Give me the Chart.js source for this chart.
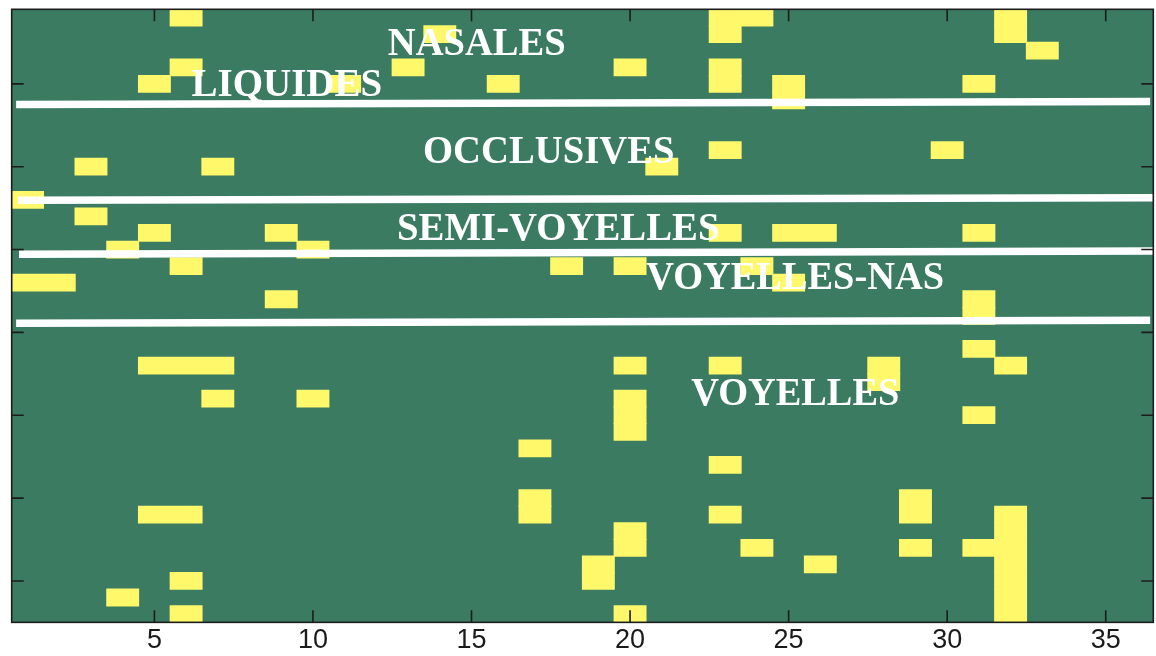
<!DOCTYPE html>
<html>
<head>
<meta charset="utf-8">
<script src="https://cdn.jsdelivr.net/npm/chart.js@4.4.0/dist/chart.umd.min.js"></script>
<style>
  html, body { margin: 0; padding: 0; background: #fff; }
  #wrap { width: 1156px; height: 656px; }
</style>
</head>
<body>
<div id="wrap"><canvas id="matrixChart"></canvas></div>
<script>
// rows of the matrix, top row first
const rowLabels = [1, 2, 3, 4, 5, 6, 7, 8, 9, 10, 11, 12, 13, 14, 15, 16, 17, 18, 19,
                   20, 21, 22, 23, 24, 25, 26, 27, 28, 29, 30, 31, 32, 33, 34, 35, 36, 37];
const xTicks = [5, 10, 15, 20, 25, 30, 35];
const yTicks = [5, 10, 15, 20, 25, 30, 35];

// marked columns in each row
const marked = [
    [6, 23, 24, 32],
    [14, 23, 32],
    [33],
    [6, 13, 20, 23],
    [5, 11, 16, 23, 25, 31],
    [25],
    [],
    [],
    [23, 30],
    [3, 7, 21],
    [],
    [1],
    [3],
    [5, 9, 23, 25, 26, 31],
    [4, 10],
    [6, 18, 20, 24],
    [1, 2, 25],
    [9, 31],
    [31],
    [],
    [31],
    [5, 6, 7, 20, 23, 28, 32],
    [28],
    [7, 10, 20],
    [20, 31],
    [20],
    [17],
    [23],
    [],
    [17, 29],
    [5, 6, 17, 23, 29, 32],
    [20, 32],
    [20, 24, 29, 31, 32],
    [19, 26, 32],
    [6, 19, 32],
    [4, 32],
    [6, 20, 32]
];

// group names and the dividers between groups (column / row units)
const groupNames = ['NASALES', 'LIQUIDES', 'OCCLUSIVES', 'SEMI-VOYELLES', 'VOYELLES-NAS', 'VOYELLES'];
const dividerX = [[0.64, 36.40], [0.70, 36.50], [0.73, 36.50], [0.64, 36.40]];
const dividerY = [[6.25, 6.06], [12.02, 11.88], [15.29, 15.09], [19.45, 19.27]];

const GREEN = '#3a7b61';
const YELLOW = '#fff86b';

// where each group name sits: left x, baseline row, width in columns
const groupLayout = [
    { x: 12.36, y: 3.26, w: 5.61 },
    { x: 6.17, y: 5.74, w: 6.20 },
    { x: 13.47, y: 9.77, w: 7.93 },
    { x: 12.65, y: 14.40, w: 10.17 },
    { x: 20.51, y: 17.36, w: 9.39 },
    { x: 21.93, y: 24.41, w: 6.56 }
];

// join neighbouring columns into one floating bar
function runsOf(cols) {
    const runs = [];
    cols.forEach(c => {
        const last = runs[runs.length - 1];
        if (last && last[1] === c - 0.5) last[1] = c + 0.5;
        else runs.push([c - 0.5, c + 0.5]);
    });
    return runs;
}

const rowRuns = marked.map(runsOf);
const maxRuns = Math.max(...rowRuns.map(r => r.length));

const datasets = [];
for (let k = 0; k < maxRuns; k++) {
    datasets.push({
        type: 'bar',
        data: rowRuns.map(r => r[k] || null),
        backgroundColor: YELLOW,
        borderWidth: 0,
        barPercentage: 1,
        categoryPercentage: 1,
        inflateAmount: 0.6,
        grouped: false,
        order: 1
    });
}
dividerX.forEach((xs, i) => {
    datasets.push({
        type: 'line',
        indexAxis: 'x',
        xAxisID: 'x',
        yAxisID: 'rowAxis',
        data: [{ x: xs[0], y: dividerY[i][0] }, { x: xs[1], y: dividerY[i][1] }],
        borderColor: '#ffffff',
        borderWidth: 7.5,
        borderCapStyle: 'butt',
        pointRadius: 0,
        tension: 0,
        order: 0
    });
});

const plotBackground = {
    id: 'plotBackground',
    beforeDatasetsDraw(chart) {
        const { ctx, chartArea: a } = chart;
        ctx.save();
        ctx.fillStyle = GREEN;
        ctx.fillRect(a.left, a.top, a.right - a.left, a.bottom - a.top);
        ctx.restore();
    }
};

const groupText = {
    id: 'groupText',
    afterDatasetsDraw(chart) {
        const { ctx } = chart;
        const xs = chart.scales.x;
        const ys = chart.scales.rowAxis;
        ctx.save();
        ctx.fillStyle = '#ffffff';
        ctx.font = 'bold 39px "Liberation Serif", "Times New Roman", serif';
        ctx.textBaseline = 'alphabetic';
        ctx.textAlign = 'left';
        groupNames.forEach((name, i) => {
            const g = groupLayout[i];
            const px = xs.getPixelForValue(g.x);
            const py = ys.getPixelForValue(g.y);
            const w = xs.getPixelForValue(g.x + g.w) - px;
            ctx.fillText(name, px, py, w);
        });
        ctx.restore();
    }
};

// box round the plot with inward tick marks on all four sides
const frame = {
    id: 'frame',
    afterDraw(chart) {
        const { ctx, chartArea: a } = chart;
        const xs = chart.scales.x;
        const ys = chart.scales.rowAxis;
        const len = 12;
        ctx.save();
        ctx.strokeStyle = '#1c1c1c';
        ctx.lineWidth = 1.6;
        ctx.beginPath();
        xTicks.forEach(v => {
            const px = xs.getPixelForValue(v);
            ctx.moveTo(px, a.bottom); ctx.lineTo(px, a.bottom - len);
            ctx.moveTo(px, a.top); ctx.lineTo(px, a.top + len);
        });
        yTicks.forEach(v => {
            const py = ys.getPixelForValue(v);
            ctx.moveTo(a.left, py); ctx.lineTo(a.left + len, py);
            ctx.moveTo(a.right, py); ctx.lineTo(a.right - len, py);
        });
        ctx.stroke();
        ctx.strokeRect(a.left, a.top, a.right - a.left, a.bottom - a.top);
        ctx.restore();
    }
};

new Chart(document.getElementById('matrixChart').getContext('2d'), {
    type: 'bar',
    data: { labels: rowLabels, datasets: datasets },
    options: {
        indexAxis: 'y',
        responsive: true,
        maintainAspectRatio: false,
        animation: false,
        devicePixelRatio: 1,
        layout: { padding: { left: 11.7, right: 2.7, top: 9.3, bottom: -3.4 } },
        plugins: {
            legend: { display: false },
            tooltip: { enabled: false }
        },
        scales: {
            x: {
                type: 'linear',
                position: 'bottom',
                min: 0.5,
                max: 36.5,
                offset: false,
                grid: { display: false, drawTicks: false },
                border: { display: false },
                afterBuildTicks: s => { s.ticks = xTicks.map(v => ({ value: v })); },
                ticks: {
                    padding: 3,
                    color: '#1a1a1a',
                    font: { family: '"Liberation Sans Narrow", "Liberation Sans", Arial, sans-serif', size: 27, lineHeight: 1.15 }
                }
            },
            y: {
                type: 'category',
                offset: true,
                display: false
            },
            rowAxis: {
                type: 'linear',
                axis: 'y',
                reverse: true,
                offset: false,
                min: 0.5,
                max: 37.5,
                display: false
            }
        }
    },
    plugins: [plotBackground, groupText, frame]
});
</script>
</body>
</html>
